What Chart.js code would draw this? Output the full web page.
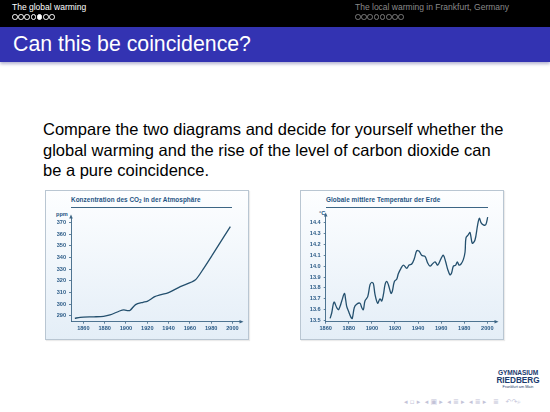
<!DOCTYPE html>
<html><head><meta charset="utf-8">
<script src="https://cdn.jsdelivr.net/npm/chart.js@4.4.1/dist/chart.umd.min.js"></script>
<style>
html,body{margin:0;padding:0;}
body{width:550px;height:412px;position:relative;overflow:hidden;background:#fff;font-family:"Liberation Sans",Arial,Helvetica,sans-serif;}
#hdr{position:absolute;left:0;top:0;width:550px;height:27px;background:#000;}
.ht{position:absolute;font-size:8.5px;line-height:10px;white-space:nowrap;}
#hl{left:12px;top:2px;color:#fff;}
#hr{left:355px;top:2px;color:#8a8a8a;}
.dots{position:absolute;top:14px;height:6px;white-space:nowrap;font-size:0;}
.dots span{display:inline-block;width:3.6px;height:3.6px;border-radius:50%;border:0.8px solid #fff;margin-right:0.6px;}
#dr span{border-color:#7a7a7a;}
.dots span.on{background:#fff;}
#bar{position:absolute;left:0;top:27px;width:550px;height:35px;background:#3333b2;box-shadow:0 2px 3px rgba(40,40,120,0.35);}
#title{position:absolute;left:13px;top:32px;color:#fff;font-size:21.3px;line-height:24px;white-space:nowrap;}
#txt{position:absolute;left:43px;top:119px;width:500px;font-size:16.5px;line-height:20.5px;color:#000;white-space:nowrap;}
.box{position:absolute;top:190px;width:202px;height:148px;border:1px solid #b9c6d2;background:linear-gradient(#fdfeff,#e4eef7);box-shadow:1px 1px 1px rgba(0,0,0,0.08);}
#b1{left:45px;} #b2{left:300px;}
canvas.cv{position:absolute;top:190px;}
#c1{left:45px;} #c2{left:300px;}
.ctitle{position:absolute;font-weight:bold;font-size:6.4px;line-height:8px;color:#1f5483;white-space:nowrap;letter-spacing:0.05px;}
.uline{position:absolute;height:0;border-top:0.8px solid #3c6584;}
.unit{position:absolute;font-weight:bold;font-size:5.6px;line-height:6px;color:#1f5483;}
#logo{position:absolute;left:490px;top:369px;width:56px;text-align:center;color:#1c3b6e;font-weight:bold;}
#logo .a{font-size:6.6px;line-height:7.5px;letter-spacing:-0.1px;}
#logo .b{font-size:8.2px;line-height:8.5px;}
#logo .c{font-size:3.8px;line-height:5px;font-weight:normal;}
#nav{position:absolute;left:404px;top:398px;font-size:7px;line-height:9px;color:#c3c3d8;white-space:nowrap;font-family:"DejaVu Sans",sans-serif;}
</style></head><body>
<div id="hdr"></div>
<div class="ht" id="hl">The global warming</div>
<div class="ht" id="hr">The local warming in Frankfurt, Germany</div>
<div class="dots" id="dl" style="left:12px"><span></span><span></span><span></span><span></span><span class="on"></span><span></span><span></span></div>
<div class="dots" id="dr" style="left:355px"><span></span><span></span><span></span><span></span><span></span><span></span><span></span><span></span></div>
<div id="bar"></div>
<div id="title">Can this be coincidence?</div>
<div id="txt">Compare the two diagrams and decide for yourself whether the<br>global warming and the rise of the level of carbon dioxide can<br>be a pure coincidence.</div>

<div class="box" id="b1"></div>
<div class="box" id="b2"></div>
<div class="ctitle" style="left:71px;top:196px">Konzentration des CO<sub style="font-size:4.5px;vertical-align:-1px">2</sub> in der Atmosphäre</div>
<div class="uline" style="left:71px;top:207px;width:161px"></div>
<div class="ctitle" style="left:326px;top:196px">Globale mittlere Temperatur der Erde</div>
<div class="uline" style="left:326px;top:207px;width:162px"></div>
<div class="unit" style="left:56px;top:211px">ppm</div>
<div class="unit" style="left:319px;top:210px">°C</div>

<canvas class="cv" id="c1" width="204" height="150"></canvas>
<canvas class="cv" id="c2" width="204" height="150"></canvas>

<div id="logo"><div class="a">GYMNASIUM</div><div class="b">RIEDBERG</div><div class="c">Frankfurt am Main</div></div>
<div id="nav">◂ ▫ ▸ &nbsp;◂ ▣ ▸ &nbsp;◂ ≣ ▸ &nbsp;◂ ≣ ▸ &nbsp; ≣ &nbsp; ↶↷⌕</div>

<script>
// ---- data ----
const co2Years  = [1852, 1857, 1870, 1879, 1885, 1894, 1898, 1902, 1904, 1909, 1916, 1920, 1927, 1932, 1940, 1951, 1965, 1973, 1981, 1992, 1998];
const co2Values = [287.7, 288.6, 289.0, 289.4, 290.6, 294.0, 295.0, 294.3, 294.6, 299.5, 301.5, 302.3, 306.3, 307.8, 309.8, 315.0, 320.7, 330.7, 342.0, 358.0, 366.6];
const co2Ticks  = [290, 300, 310, 320, 330, 340, 350, 360, 370];

const tempYears  = [1863.8, 1865.2, 1867.2, 1869.5, 1871, 1872.4, 1873.9, 1876.2, 1877.3, 1878.2, 1879.6, 1881.9, 1883, 1884.8, 1886.8, 1889.7, 1891.2, 1892.6, 1894, 1896.4, 1898.4, 1899.8, 1901.3, 1902.7, 1905, 1907, 1908.5, 1910, 1911.4, 1912.8, 1914.3, 1916.6, 1917.7, 1919.5, 1921.5, 1922.9, 1925.2, 1927.3, 1930.2, 1932.2, 1934.5, 1936.8, 1938.8, 1940.8, 1943.1, 1946, 1948.3, 1950.4, 1952.4, 1954.7, 1957, 1959.9, 1961.9, 1963.9, 1965.7, 1967.7, 1969.1, 1970.6, 1972.6, 1974, 1975.5, 1977.2, 1979.2, 1980.7, 1981.5, 1983.6, 1985, 1987, 1989.3, 1991.6, 1993.1, 1994.5, 1996.5, 1998.6, 2000.3];
const tempValues = [13.52, 13.57, 13.67, 13.62, 13.60, 13.63, 13.68, 13.75, 13.69, 13.63, 13.59, 13.53, 13.52, 13.62, 13.65, 13.66, 13.62, 13.60, 13.68, 13.72, 13.83, 13.85, 13.84, 13.74, 13.66, 13.70, 13.68, 13.74, 13.83, 13.86, 13.83, 13.75, 13.77, 13.86, 13.88, 13.93, 13.98, 14.01, 13.98, 14.01, 14.02, 14.07, 14.14, 14.14, 14.10, 14.09, 14.03, 14.00, 14.02, 14.04, 14.01, 14.07, 14.10, 14.04, 13.97, 13.92, 13.94, 14.00, 14.01, 14.04, 14.01, 14.02, 14.06, 14.13, 14.26, 14.29, 14.31, 14.21, 14.24, 14.38, 14.44, 14.40, 14.38, 14.38, 14.45];
const tempTicks  = [13.5, 13.6, 13.7, 13.8, 13.9, 14.0, 14.1, 14.2, 14.3, 14.4];
const yearTicks  = [1860, 1880, 1900, 1920, 1940, 1960, 1980, 2000];

// ---- styling ----
const lineColor = '#24506e';
const axisColor = '#3c6584';
const tickColor = '#2a5a86';
const tickFont = {family: '"Liberation Sans Narrow","Liberation Sans",sans-serif', size: 5.6, weight: 'bold'};

const arrows = {
  id: 'arrows',
  afterDraw(c) {
    const {ctx, chartArea: a} = c;
    ctx.save();
    ctx.fillStyle = axisColor;
    ctx.beginPath();
    ctx.moveTo(a.left, a.top - 2.5);
    ctx.lineTo(a.left - 1.8, a.top + 1.5);
    ctx.lineTo(a.left + 1.8, a.top + 1.5);
    ctx.closePath(); ctx.fill();
    ctx.beginPath();
    ctx.moveTo(a.right + 2.5, a.bottom);
    ctx.lineTo(a.right - 1.5, a.bottom - 1.8);
    ctx.lineTo(a.right - 1.5, a.bottom + 1.8);
    ctx.closePath(); ctx.fill();
    ctx.restore();
  }
};

function makeChart(id, xs, ys, yTicks, yMin, yMax, xMin, xMax, padTop, yWidth, decimals, tension) {
  const pts = xs.map((x, i) => ({x: x, y: ys[i]}));
  return new Chart(document.getElementById(id), {
    type: 'line',
    data: {datasets: [{data: pts, borderColor: lineColor, borderWidth: 1.3, pointRadius: 0, fill: false, tension: tension}]},
    options: {
      responsive: false, animation: false, devicePixelRatio: 1,
      layout: {padding: {left: 0, top: padTop, right: 8, bottom: 0}},
      plugins: {legend: {display: false}, tooltip: {enabled: false}},
      scales: {
        x: {
          type: 'linear', min: xMin, max: xMax,
          afterBuildTicks: s => { s.ticks = yearTicks.map(v => ({value: v})); },
          afterFit: s => { s.height = 18.3; },
          ticks: {font: tickFont, color: tickColor, padding: 1.5, maxRotation: 0, autoSkip: false, callback: v => String(v)},
          grid: {display: true, drawOnChartArea: false, drawTicks: true, tickLength: 2, color: axisColor, lineWidth: 0.8},
          border: {display: true, color: axisColor, width: 0.9}
        },
        y: {
          type: 'linear', min: yMin, max: yMax,
          afterBuildTicks: s => { s.ticks = yTicks.map(v => ({value: v})); },
          afterFit: s => { s.width = yWidth; },
          ticks: {font: tickFont, color: tickColor, padding: 3, autoSkip: false, callback: v => Number(v).toFixed(decimals)},
          grid: {display: true, drawOnChartArea: false, drawTicks: true, tickLength: 2, color: axisColor, lineWidth: 0.8},
          border: {display: true, color: axisColor, width: 0.9}
        }
      }
    },
    plugins: [arrows]
  });
}

makeChart('c1', co2Years, co2Values, co2Ticks, 284.8, 374.8, 1848.4, 2008, 27, 26, 0, 0.25);
makeChart('c2', tempYears, tempValues, tempTicks, 13.49, 14.47, 1860, 2007.5, 25, 25.7, 1, 0.35);
</script>
</body></html>
